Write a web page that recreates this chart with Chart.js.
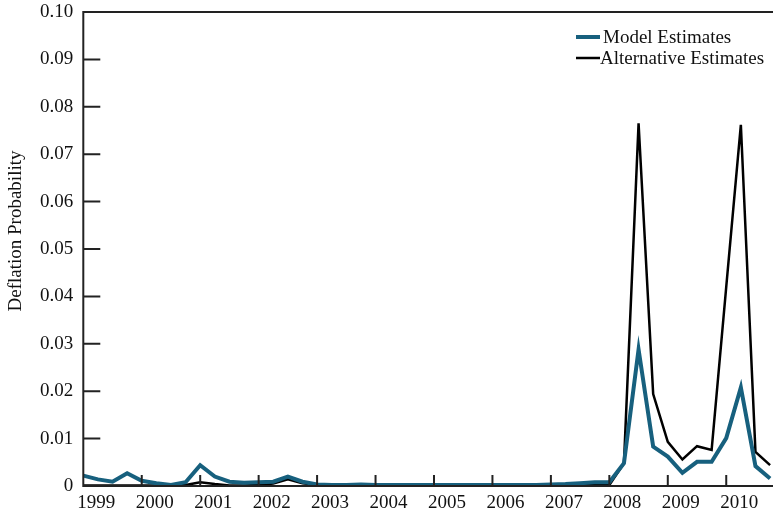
<!DOCTYPE html>
<html>
<head>
<meta charset="utf-8">
<script src="https://cdn.jsdelivr.net/npm/chart.js@4/dist/chart.umd.min.js"></script>
<style>
  html, body { margin: 0; padding: 0; background: #fff; }
  #wrap { width: 773px; height: 510px; position: relative; }
</style>
</head>
<body>
<div id="wrap"><canvas id="defChart"></canvas></div>
<script>
// Quarterly deflation probability, 1999Q1 .. 2010Q4

const yearLabels = ['1999', '2000', '2001', '2002', '2003', '2004', '2005', '2006', '2007', '2008', '2009', '2010'];
const yTickLabels = ['0', '0.01', '0.02', '0.03', '0.04', '0.05', '0.06', '0.07', '0.08', '0.09', '0.10'];

const modelEstimates = [
  0.0022, 0.0014, 0.0009, 0.0027, 0.0011, 0.0006, 0.0002, 0.0008,
  0.0044, 0.0020, 0.0009, 0.0007, 0.0008, 0.0009, 0.0020, 0.0009,
  0.0003, 0.0002, 0.0002, 0.0003, 0.0002, 0.0002, 0.0002, 0.0002,
  0.0002, 0.0002, 0.0002, 0.0002, 0.0002, 0.0002, 0.0002, 0.0002,
  0.0003, 0.0004, 0.0006, 0.0008, 0.0008, 0.0048, 0.0288, 0.0083,
  0.0062, 0.0028, 0.0051, 0.0051, 0.0101, 0.0208, 0.0042, 0.0016
];
const alternativeEstimates = [
  0.0001, 0.0001, 0.0001, 0.0001, 0.0001, 0.0001, 0.0001, 0.0002,
  0.0008, 0.0004, 0.0001, 0.0001, 0.0002, 0.0005, 0.0014, 0.0006,
  0.0002, 0.0001, 0.0001, 0.0001, 0.0001, 0.0001, 0.0001, 0.0001,
  0.0001, 0.0001, 0.0001, 0.0001, 0.0001, 0.0001, 0.0001, 0.0001,
  0.0001, 0.0001, 0.0001, 0.0002, 0.0002, 0.0048, 0.0765, 0.0194,
  0.0093, 0.0056, 0.0084, 0.0076, 0.0420, 0.0762, 0.0072, 0.0044
];

const teal = '#17607e';
const serif = '"Liberation Serif", "Times New Roman", serif';

const toPoints = arr => arr.map((v, i) => ({ x: i, y: v }));

// axes frame, inward ticks, y title and legend
const framePlugin = {
  id: 'frame',
  afterDraw(chart) {
    const { ctx, chartArea: a, scales } = chart;
    const xs = scales.x, ys = scales.y;
    ctx.save();
    ctx.strokeStyle = '#222';
    ctx.lineWidth = 2;
    ctx.beginPath();
    ctx.moveTo(a.right + 2, a.top);
    ctx.lineTo(a.left, a.top);
    ctx.lineTo(a.left, a.bottom);
    ctx.lineTo(a.right + 2, a.bottom);
    ctx.stroke();

    ctx.beginPath();
    for (let k = 1; k < yTickLabels.length - 1; k++) {
      const y = ys.getPixelForValue(k / 100);
      ctx.moveTo(a.left, y);
      ctx.lineTo(a.left + 17, y);
    }
    for (let k = 1; k < yearLabels.length; k++) {
      const x = xs.getPixelForValue(k * 4);
      ctx.moveTo(x, a.bottom);
      ctx.lineTo(x, a.bottom - 11);
    }
    ctx.stroke();

    // y axis title
    ctx.fillStyle = '#111';
    ctx.font = '19px ' + serif;
    ctx.textAlign = 'center';
    ctx.textBaseline = 'middle';
    ctx.translate(16, 231);
    ctx.rotate(-Math.PI / 2);
    ctx.fillText('Deflation Probability', 0, 0);
    ctx.restore();

    // legend
    ctx.save();
    ctx.font = '19px ' + serif;
    ctx.textAlign = 'left';
    ctx.textBaseline = 'middle';
    ctx.fillStyle = '#111';
    const rows = [37, 58];
    chart.data.datasets.forEach((ds, i) => {
      const y = rows[i];
      ctx.strokeStyle = ds.borderColor;
      ctx.lineWidth = ds.borderWidth;
      ctx.beginPath();
      ctx.moveTo(576, y);
      ctx.lineTo(600, y);
      ctx.stroke();
      ctx.fillText(ds.label, i === 0 ? 603 : 600, y + 1);
    });
    ctx.restore();
  }
};

new Chart(document.getElementById('defChart'), {
  type: 'line',
  data: {
    datasets: [
      {
        label: 'Model Estimates',
        data: toPoints(modelEstimates),
        borderColor: teal,
        borderWidth: 4,
        pointRadius: 0,
        tension: 0,
        fill: false
      },
      {
        label: 'Alternative Estimates',
        data: toPoints(alternativeEstimates),
        borderColor: '#000000',
        borderWidth: 2.5,
        pointRadius: 0,
        tension: 0,
        fill: false
      }
    ]
  },
  options: {
    responsive: true,
    maintainAspectRatio: false,
    animation: false,
    layout: { padding: { top: 12, right: 0, left: 0, bottom: 0 } },
    plugins: {
      legend: { display: false },
      tooltip: { enabled: false }
    },
    scales: {
      x: {
        type: 'linear',
        min: 0,
        max: 47.2,
        grid: { display: false, drawTicks: false },
        border: { display: false },
        afterBuildTicks: s => { s.ticks = yearLabels.map((_, k) => ({ value: k * 4 })); },
        afterFit: s => { s.height = 24; s.paddingLeft = 0; s.paddingRight = 0; },
        ticks: {
          autoSkip: false,
          maxRotation: 0,
          padding: 6,
          labelOffset: 13,
          color: '#111',
          font: { family: serif, size: 19 },
          callback: (v) => yearLabels[Math.round(v / 4)]
        }
      },
      y: {
        min: 0,
        max: 0.10,
        grid: { display: false, drawTicks: false },
        border: { display: false },
        afterBuildTicks: s => { s.ticks = yTickLabels.map((_, k) => ({ value: k / 100 })); },
        afterFit: s => { s.width = 83.3; s.paddingTop = 0; s.paddingBottom = 0; },
        ticks: {
          padding: 10,
          color: '#111',
          font: { family: serif, size: 19 },
          callback: (v) => yTickLabels[Math.round(v * 100)]
        }
      }
    }
  },
  plugins: [framePlugin]
});
</script>
</body>
</html>
